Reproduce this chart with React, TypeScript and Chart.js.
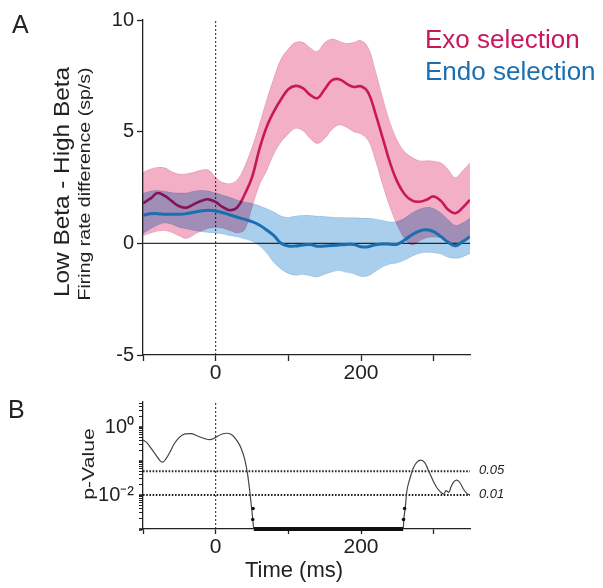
import React, { useEffect, useRef } from 'react';
import { Chart, registerables } from 'chart.js';

// ---- blend plugin (registered before the filler so fills are drawn with multiply) ----
const bandBlend = {
  id: 'bandBlend',
  beforeDatasetDraw(chart: any, args: any) {
    const ds = chart.data.datasets[args.index];
    if (ds && ds.blend) {
      chart.ctx.save();
      chart.ctx.globalCompositeOperation = 'multiply';
    }
  },
  afterDatasetDraw(chart: any, args: any) {
    const ds = chart.data.datasets[args.index];
    if (ds && ds.blend) chart.ctx.restore();
  },
};
Chart.register(bandBlend);
Chart.register(...registerables);

// ---------------- DATA ----------------
const times = [
  -100, -90, -80, -70, -60, -50, -40, -30, -20, -10, 0, 10, 20, 30, 40, 50, 60, 70, 80, 90, 100,
  110, 120, 130, 140, 150, 160, 170, 180, 190, 200, 210, 220, 230, 240, 250, 260, 270, 280, 290,
  300, 310, 320, 330, 340, 350,
];

const exoMean = [
  1.8, 2.0, 2.25, 2.12, 1.88, 1.66, 1.6, 1.75, 1.9, 1.97, 1.85, 1.62, 1.48, 1.62, 2.2, 2.95, 4.2,
  5.2, 5.9, 6.45, 6.9, 7.05, 6.95, 6.65, 6.5, 6.9, 7.3, 7.35, 7.15, 7.0, 7.03, 6.75, 5.8, 4.7, 3.6,
  2.75, 2.2, 1.92, 1.86, 1.95, 2.1, 1.9, 1.5, 1.35, 1.6, 1.95,
];
const exoUpper = [
  3.18, 3.32, 3.4, 3.38, 3.2, 3.1, 3.12, 3.18, 3.28, 3.28, 2.95, 2.72, 2.68, 2.85, 3.45, 4.3, 5.3,
  6.4, 7.4, 8.25, 8.7, 9.0, 9.0, 8.75, 8.6, 8.98, 9.15, 9.05, 8.95, 9.0, 9.08, 8.75, 7.7, 6.5, 5.4,
  4.6, 4.1, 3.85, 3.7, 3.7, 3.68, 3.6, 3.3, 2.95, 3.25, 3.6,
];
const exoLower = [
  0.35, 0.45, 0.55, 0.57, 0.48, 0.33, 0.22, 0.38, 0.55, 0.67, 0.72, 0.68, 0.57, 0.47, 0.62, 1.6,
  2.6, 3.25, 4.0, 4.55, 4.9, 5.15, 5.05, 4.7, 4.47, 4.7, 5.1, 5.3, 5.2, 5.0, 4.9, 4.6, 3.7, 2.6,
  1.6, 0.8, 0.22, -0.08, 0.1, 0.25, 0.28, 0.25, 0.02, -0.18, 0.04, 0.27,
];

const endoMean = [
  1.25, 1.32, 1.33, 1.3, 1.3, 1.3, 1.33, 1.39, 1.45, 1.48, 1.45, 1.37, 1.27, 1.17, 1.07, 0.97,
  0.82, 0.6, 0.35, 0.0, -0.12, -0.12, -0.07, -0.05, -0.13, -0.12, -0.1, -0.07, -0.05, -0.05,
  -0.15, -0.15, -0.06, -0.03, -0.04, -0.04, 0.15, 0.38, 0.55, 0.61, 0.52, 0.3, 0.05, -0.1, 0.08,
  0.3,
];
const endoUpper = [
  2.24, 2.33, 2.37, 2.32, 2.27, 2.25, 2.25, 2.33, 2.37, 2.34, 2.25, 2.15, 2.05, 1.93, 1.85, 1.78,
  1.68, 1.55, 1.4, 1.22, 1.16, 1.22, 1.25, 1.25, 1.22, 1.2, 1.17, 1.16, 1.15, 1.14, 1.13, 1.12,
  1.08, 1.02, 0.96, 0.98, 1.12, 1.35, 1.52, 1.61, 1.55, 1.35, 1.05, 0.8, 0.92, 1.12,
];
const endoLower = [
  0.45, 0.65, 0.82, 0.92, 0.85, 0.72, 0.65, 0.58, 0.53, 0.49, 0.46, 0.42, 0.35, 0.29, 0.2, 0.1,
  -0.1, -0.42, -0.85, -1.15, -1.35, -1.43, -1.4, -1.45, -1.5, -1.38, -1.28, -1.22, -1.3, -1.36,
  -1.48, -1.45, -1.25, -1.05, -0.93, -0.87, -0.75, -0.58, -0.45, -0.4, -0.42, -0.48, -0.62, -0.67,
  -0.6, -0.45,
];

const xTicks = [-100, 0, 100, 200, 300];
const xTickLabels = [0, 200];
const yTicksTop = [-5, 0, 5, 10];

// p-value panel
const pTimes = [
  -100, -95, -88, -82, -76, -73, -68, -62, -57, -50, -42, -34, -25, -15, -8, 0, 8, 16, 23, 30, 35,
  40, 44, 47, 49, 51, 52.5, 258, 259, 261, 263, 267, 272, 277, 282, 288, 293, 299, 304, 309, 314,
  317, 321, 324, 328, 332, 336, 341, 346, 350,
];
const pValues = [
  0.417, 0.355, 0.224, 0.148, 0.1, 0.093, 0.12, 0.2, 0.324, 0.5, 0.63, 0.646, 0.55, 0.457, 0.427,
  0.5, 0.617, 0.66, 0.575, 0.38, 0.24, 0.112, 0.04, 0.0126, 0.005, 0.002, 0.001, 0.001, 0.002,
  0.0045, 0.0126, 0.029, 0.063, 0.093, 0.107, 0.089, 0.052, 0.027, 0.017, 0.0126, 0.0107, 0.0135,
  0.012, 0.018, 0.025, 0.0275, 0.0234, 0.0148, 0.011, 0.01,
];
const sigTimes = [52.5, 258];
const sigValues = [0.001, 0.001];
const markerTimes = [51.5, 51, 260, 258.5];
const markerValues = [0.004, 0.0019, 0.004, 0.0019];
const thresholds = [0.05, 0.01];
const thresholdLabels = ['0.05', '0.01'];
const logTicks = [
  0.001, 0.002, 0.003, 0.004, 0.005, 0.006, 0.007, 0.008, 0.009,
  0.01, 0.02, 0.03, 0.04, 0.05, 0.06, 0.07, 0.08, 0.09,
  0.1, 0.2, 0.3, 0.4, 0.5, 0.6, 0.7, 0.8, 0.9,
  1, 2, 3, 4, 5,
];
const logMajor = [0.001, 0.01, 0.1, 1];
const logLabels: Record<string, string> = { '1': '10\u2070', '0.01': '10\u207B\u00B2' };

// ---------------- STYLE ----------------
const FONT = '"Liberation Sans", Arial, Helvetica, sans-serif';
const AXIS = '#222';
const EXO = '#C8185A';
const ENDO = '#1B6FB0';
const PINK_FILL = '#F2AFC6';
const PINK_EDGE = 'rgba(200,120,150,0.35)';
const BLUE_FILL = '#A9CFEC';
const BLUE_EDGE = 'rgba(110,160,205,0.35)';

const pts = (xs: number[], ys: number[]) => xs.map((x, i) => ({ x, y: ys[i] }));

function axisCommon(tickLength: number) {
  return {
    grid: {
      display: true,
      drawOnChartArea: false,
      drawTicks: true,
      tickLength,
      tickColor: AXIS,
      tickWidth: 1.3,
    },
    border: { display: true, color: AXIS, width: 1.3 },
  };
}

function xAxis(height: number, tickLength: number, padding: number) {
  return {
    type: 'linear',
    min: -100,
    max: 350,
    afterBuildTicks: (s: any) => {
      s.ticks = xTicks.map((v) => ({ value: v }));
    },
    afterFit: (s: any) => {
      s.height = height;
    },
    ticks: {
      autoSkip: false,
      maxRotation: 0,
      padding,
      color: AXIS,
      font: { family: FONT, size: 21 },
      callback: (v: any) => (xTickLabels.includes(v) ? String(v) : ''),
    },
    ...axisCommon(tickLength),
  };
}

const lineBase = { pointRadius: 0, fill: false, tension: 0.4 };

function TopChart() {
  const ref = useRef<HTMLCanvasElement>(null);
  useEffect(() => {
    const chart = new Chart(ref.current as HTMLCanvasElement, {
      type: 'line',
      data: {
        datasets: [
          { ...lineBase, label: 'exoUpper', data: pts(times, exoUpper), fill: '+1', backgroundColor: PINK_FILL, borderColor: PINK_EDGE, borderWidth: 0.8, order: 40, blend: true } as any,
          { ...lineBase, label: 'exoLower', data: pts(times, exoLower), borderColor: PINK_EDGE, borderWidth: 0.8, order: 40, blend: true } as any,
          { ...lineBase, label: 'Exo selection', data: pts(times, exoMean), borderColor: EXO, borderWidth: 2.6, order: 30 },
          { ...lineBase, label: 'endoUpper', data: pts(times, endoUpper), fill: '+1', backgroundColor: BLUE_FILL, borderColor: BLUE_EDGE, borderWidth: 0.8, order: 20, blend: true } as any,
          { ...lineBase, label: 'endoLower', data: pts(times, endoLower), borderColor: BLUE_EDGE, borderWidth: 0.8, order: 20, blend: true } as any,
          { ...lineBase, label: 'Endo selection', data: pts(times, endoMean), borderColor: ENDO, borderWidth: 3, order: 10 },
          { ...lineBase, tension: 0, label: 'zero', data: pts([-100, 350], [0, 0]), borderColor: '#333', borderWidth: 1.3, order: 50 },
          { ...lineBase, tension: 0, label: 'onset', data: pts([0, 0], [-5, 10]), borderColor: '#222', borderWidth: 1, borderDash: [2, 2], order: 50 },
        ],
      },
      options: {
        animation: false,
        responsive: false,
        maintainAspectRatio: false,
        events: [],
        layout: { padding: { left: 0, right: 133, top: 20, bottom: 0 } },
        plugins: { legend: { display: false }, tooltip: { enabled: false } },
        scales: {
          x: xAxis(45, 6, 0) as any,
          y: {
            type: 'linear',
            min: -5,
            max: 10,
            afterBuildTicks: (s: any) => {
              s.ticks = yTicksTop.map((v) => ({ value: v }));
            },
            afterFit: (s: any) => {
              s.width = 143;
            },
            ticks: { padding: 3, color: AXIS, font: { family: FONT, size: 20 }, callback: (v: any) => String(v) },
            ...axisCommon(6),
          } as any,
        },
      },
    });
    return () => chart.destroy();
  }, []);
  return <canvas ref={ref} width={603} height={400} style={{ position: 'absolute', left: 0, top: 0 }} />;
}

function BottomChart() {
  const ref = useRef<HTMLCanvasElement>(null);
  useEffect(() => {
    const thresholdText = {
      id: 'thresholdText',
      afterDatasetsDraw(chart: any) {
        const { ctx, chartArea, scales } = chart;
        ctx.save();
        ctx.font = `italic 13px ${FONT}`;
        ctx.fillStyle = AXIS;
        ctx.textAlign = 'left';
        ctx.textBaseline = 'middle';
        thresholds.forEach((v, i) => {
          ctx.fillText(thresholdLabels[i], chartArea.right + 9, scales.y.getPixelForValue(v) - 1);
        });
        ctx.restore();
      },
    };
    const chart = new Chart(ref.current as HTMLCanvasElement, {
      type: 'line',
      data: {
        datasets: [
          { pointRadius: 0, fill: false, cubicInterpolationMode: 'monotone', label: 'p', data: pts(pTimes, pValues), borderColor: '#444', borderWidth: 1.2, order: 10 } as any,
          { pointRadius: 0, fill: false, label: 'sig', data: pts(sigTimes, sigValues), borderColor: '#111', borderWidth: 4, clip: false, order: 5 } as any,
          { label: 'markers', data: pts(markerTimes, markerValues), showLine: false, pointRadius: 1.8, pointBackgroundColor: '#111', pointBorderWidth: 0, order: 1 } as any,
          { pointRadius: 0, fill: false, label: 't05', data: pts([-100, 350], [thresholds[0], thresholds[0]]), borderColor: '#222', borderWidth: 2, borderDash: [1.6, 1.6], order: 20 } as any,
          { pointRadius: 0, fill: false, label: 't01', data: pts([-100, 350], [thresholds[1], thresholds[1]]), borderColor: '#222', borderWidth: 2, borderDash: [1.6, 1.6], order: 20 } as any,
          { pointRadius: 0, fill: false, label: 'onset', data: pts([0, 0], [0.001, 5.5]), borderColor: '#222', borderWidth: 1, borderDash: [2, 2], order: 20 } as any,
        ],
      },
      options: {
        animation: false,
        responsive: false,
        maintainAspectRatio: false,
        events: [],
        layout: { padding: { left: 0, right: 133, top: 12, bottom: 0 } },
        plugins: { legend: { display: false }, tooltip: { enabled: false } },
        scales: {
          x: xAxis(59, 5, 1) as any,
          y: {
            type: 'logarithmic',
            min: 0.001,
            max: 5.5,
            afterBuildTicks: (s: any) => {
              s.ticks = logTicks.map((v) => ({ value: v, major: logMajor.includes(v) }));
            },
            afterFit: (s: any) => {
              s.width = 143;
            },
            ticks: {
              autoSkip: false,
              padding: 5,
              color: AXIS,
              font: { family: FONT, size: 20 },
              callback: (v: any) => logLabels[String(v)] || '',
            },
            grid: {
              display: true,
              drawOnChartArea: false,
              drawTicks: true,
              tickLength: 4,
              tickColor: AXIS,
              tickWidth: (c: any) => (c.tick && logMajor.includes(c.tick.value) ? 2.5 : 1),
            },
            border: { display: true, color: AXIS, width: 1.3 },
          } as any,
        },
      },
      plugins: [thresholdText],
    });
    return () => chart.destroy();
  }, []);
  return <canvas ref={ref} width={603} height={203} style={{ position: 'absolute', left: 0, top: 385 }} />;
}

// baseline-positioned text (line-height 1, Liberation Sans ascent .905 / descent .212)
function Text(props: { x: number; baseline: number; size: number; text: string; color?: string; center?: boolean }) {
  const { x, baseline, size, text, color, center } = props;
  return (
    <div
      style={{
        position: 'absolute',
        left: x,
        top: baseline - 0.8465 * size,
        fontSize: size,
        lineHeight: 1,
        whiteSpace: 'nowrap',
        color: color || AXIS,
        fontFamily: FONT,
        transform: center ? 'translateX(-50%)' : undefined,
      }}
    >
      {text}
    </div>
  );
}

function VText(props: { cx: number; cy: number; size: number; stretch: number; text: string }) {
  const { cx, cy, size, stretch, text } = props;
  return (
    <div
      style={{
        position: 'absolute',
        left: cx,
        top: cy,
        fontSize: size,
        lineHeight: 1,
        whiteSpace: 'nowrap',
        color: AXIS,
        fontFamily: FONT,
        transform: `translate(-50%, -50%) rotate(-90deg) scaleX(${stretch})`,
      }}
    >
      {text}
    </div>
  );
}

export default function App() {
  return (
    <div
      style={{
        position: 'absolute',
        left: 0,
        top: 0,
        width: 603,
        height: 588,
        background: '#fff',
        overflow: 'hidden',
        fontFamily: FONT,
      }}
    >
      <TopChart />
      <BottomChart />
      <Text x={12} baseline={33} size={25} text="A" />
      <Text x={8} baseline={418} size={25} text="B" />
      <Text x={425} baseline={48} size={26} text="Exo selection" color={EXO} />
      <Text x={425} baseline={80} size={26} text="Endo selection" color={ENDO} />
      <VText cx={62} cy={182} size={22} stretch={1.106} text="Low Beta - High Beta" />
      <VText cx={85} cy={183.5} size={16} stretch={1.22} text="Firing rate difference (sp/s)" />
      <VText cx={88} cy={463.5} size={17} stretch={1.246} text="p-Value" />
      <Text x={294} baseline={578} size={22} text="Time (ms)" center />
    </div>
  );
}
